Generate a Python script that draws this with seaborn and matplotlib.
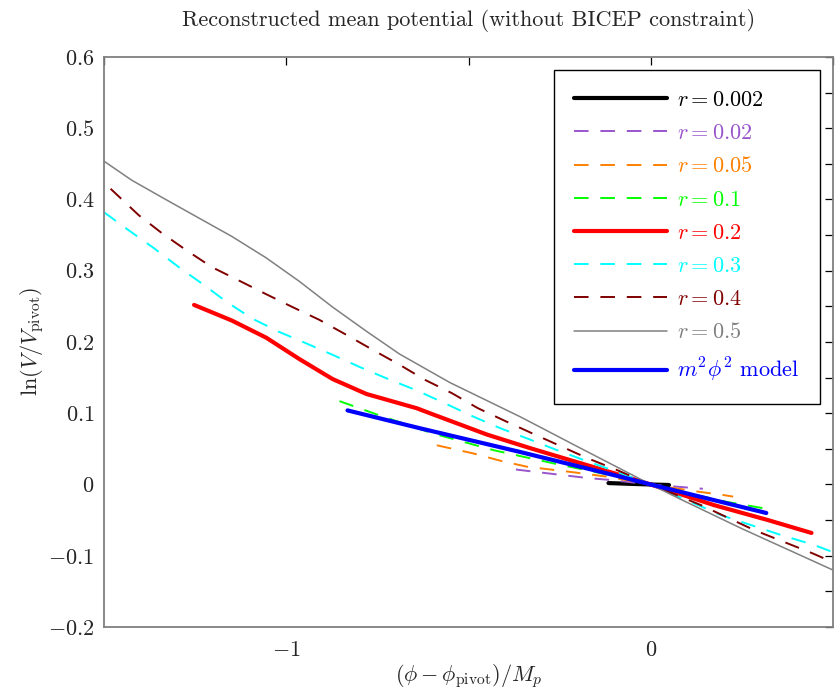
import matplotlib
matplotlib.use("Agg")
import matplotlib.pyplot as plt
import matplotlib.ticker as mticker
import seaborn as sns
import pandas as pd

# ---- data ----
x_002 = [-0.116, -0.06, 0.0, 0.05]
y_002 = [0.002, 0.001, 0.0, -0.0007]

x_02 = [-0.37, -0.267, -0.174, -0.11, 0.0, 0.07, 0.143]
y_02 = [0.021, 0.0147, 0.0091, 0.0063, 0.0, -0.003, -0.006]

x_05 = [-0.587, -0.49, -0.41, -0.34, -0.21, -0.12, 0.0, 0.115, 0.202, 0.226]
y_05 = [0.055, 0.044, 0.033, 0.025, 0.017, 0.011, 0.0, -0.009, -0.015, -0.017]

x_1 = [-0.854, -0.75, -0.6, -0.43, -0.27, -0.1, 0.0, 0.1, 0.21, 0.317]
y_1 = [0.117, 0.098, 0.072, 0.048, 0.030, 0.012, 0.0, -0.012, -0.0245, -0.034]

x_2 = [-1.253, -1.149, -1.055, -0.964, -0.873, -0.78, -0.642, -0.606, -0.449,
       -0.331, -0.102, 0.0, 0.174, 0.322, 0.441]
y_2 = [0.252, 0.230, 0.206, 0.176, 0.148, 0.127, 0.107, 0.100, 0.070,
       0.051, 0.016, 0.0, -0.029, -0.050, -0.068]

x_3 = [-1.5, -1.433, -1.364, -1.295, -1.226, -1.163, -1.094, -1.019, -0.945,
       -0.873, -0.799, -0.716, -0.642, -0.565, -0.490, -0.413, -0.336, -0.256,
       -0.182, -0.105, 0.0, 0.193, 0.358, 0.449, 0.5]
y_3 = [0.382, 0.357, 0.332, 0.305, 0.280, 0.256, 0.233, 0.214, 0.198,
       0.182, 0.165, 0.147, 0.132, 0.114, 0.096, 0.079, 0.064, 0.048,
       0.034, 0.020, 0.0, -0.043, -0.071, -0.085, -0.095]

x_4 = [-1.482, -1.405, -1.342, -1.275, -1.204, -1.129, -1.055, -0.983, -0.909,
       -0.835, -0.763, -0.689, -0.620, -0.545, -0.474, -0.399, -0.322, -0.248,
       -0.174, -0.096, 0.0, 0.138, 0.284, 0.441, 0.504]
y_4 = [0.415, 0.378, 0.353, 0.329, 0.305, 0.286, 0.267, 0.249, 0.231,
       0.210, 0.189, 0.168, 0.147, 0.128, 0.107, 0.089, 0.071, 0.054,
       0.037, 0.021, 0.0, -0.029, -0.064, -0.096, -0.110]

x_5 = [-1.501, -1.424, -1.331, -1.240, -1.149, -1.055, -0.964, -0.873, -0.780,
       -0.689, -0.551, -0.358, -0.193, 0.0, 0.083, 0.25, 0.504]
y_5 = [0.454, 0.427, 0.400, 0.374, 0.348, 0.318, 0.285, 0.249, 0.215,
       0.183, 0.143, 0.095, 0.051, 0.0, -0.021, -0.062, -0.121]

x_m = [-0.832, -0.634, -0.358, -0.102, 0.0, 0.174, 0.317]
y_m = [0.104, 0.079, 0.0456, 0.0133, 0.0, -0.022, -0.040]

labels = [r"$r = 0.002$", r"$r = 0.02$", r"$r = 0.05$", r"$r = 0.1$",
          r"$r = 0.2$", r"$r = 0.3$", r"$r = 0.4$", r"$r = 0.5$",
          r"$m^2\phi^2$ model"]
xs = [x_002, x_02, x_05, x_1, x_2, x_3, x_4, x_5, x_m]
ys = [y_002, y_02, y_05, y_1, y_2, y_3, y_4, y_5, y_m]

colors = ["#000000", "#9955cc", "#ff8000", "#00ff00", "#ff0000",
          "#00ffff", "#800000", "#808080", "#0000ff"]
DASH = (0, (10.5, 8.5))
styles = ["-", DASH, DASH, DASH, "-", DASH, DASH, "-", "-"]
widths = [3.0, 1.4, 1.4, 1.4, 3.0, 1.4, 1.4, 1.1, 3.0]

x_ticks_major = [-1, 0]
y_ticks_major = [-0.2, -0.1, 0.0, 0.1, 0.2, 0.3, 0.4, 0.5, 0.6]

# ---- style ----
sns.set_style("white")
plt.rcParams.update({
    "font.family": "serif",
    "font.serif": ["cmr10", "DejaVu Serif"],
    "mathtext.fontset": "cm",
    "axes.formatter.use_mathtext": True,
    "lines.scale_dashes": False,
    "axes.unicode_minus": False,
    "lines.solid_capstyle": "round",
})

fig = plt.figure(figsize=(8.35, 6.91), dpi=100)
ax = fig.add_axes([0.1246, 0.0926, 0.873, 0.825])

for x, y, lab, c, ls, lw in zip(xs, ys, labels, colors, styles, widths):
    df = pd.DataFrame({"x": x, "y": y})
    sns.lineplot(data=df, x="x", y="y", ax=ax, color=c, linestyle=ls,
                 linewidth=lw, label=lab, sort=False, estimator=None)

ax.set_xlim(-1.5, 0.5)
ax.set_ylim(-0.2, 0.6)
ax.set_xticks(x_ticks_major)
ax.set_yticks(y_ticks_major)
ax.xaxis.set_minor_locator(mticker.MultipleLocator(0.5))
ax.yaxis.set_minor_locator(mticker.MultipleLocator(0.05))

def fmt(v, pos):
    s = "%g" % round(v, 6)
    return "$%s$" % s

ax.xaxis.set_major_formatter(mticker.FuncFormatter(fmt))
ax.yaxis.set_major_formatter(mticker.FuncFormatter(fmt))

ax.tick_params(which="both", direction="in", top=True, right=True,
               length=6, width=0.9, color="black", labelsize=16)
ax.tick_params(axis="x", which="major", pad=10)
ax.tick_params(axis="y", which="major", pad=7)

for sp in ax.spines.values():
    sp.set_color("#808080")
    sp.set_linewidth(1.3)

ax.set_xlabel(r"$(\phi - \phi_{\rm pivot})/M_p$", fontsize=16, labelpad=1)
ax.set_ylabel(r"$\ln(V/V_{\rm pivot})$", fontsize=16, labelpad=1)
ax.set_title("Reconstructed mean potential (without BICEP constraint)",
             fontsize=16, pad=22)

leg = ax.legend(loc="upper right", fontsize=16, frameon=True, fancybox=False,
                framealpha=1, edgecolor="black", handlelength=4.2,
                handletextpad=0.45, labelspacing=0.61, borderpad=0.9,
                borderaxespad=0.6, labelcolor="linecolor")
leg.get_frame().set_linewidth(1.0)

fig.savefig("out.png", dpi=100)
